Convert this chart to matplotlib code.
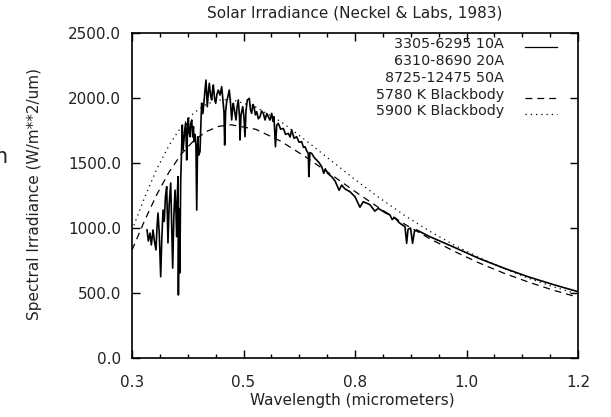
import matplotlib
matplotlib.use("Agg")
import matplotlib.pyplot as plt
from matplotlib.lines import Line2D

# Neckel & Labs (1983) solar spectral irradiance, W/m^2/um
wavelength = [
    0.3303, 0.3330, 0.3363, 0.3390, 0.3424, 0.3450, 0.3484, 0.3505, 0.3525, 0.3550,
    0.3579, 0.3600, 0.3626, 0.3650, 0.3675, 0.3700, 0.3726, 0.3750, 0.3781, 0.3800,
    0.3821, 0.3845, 0.3868, 0.3885, 0.3902, 0.3915, 0.3928, 0.3936, 0.3950, 0.3965,
    0.3983, 0.4015, 0.4030, 0.4049, 0.4065, 0.4084, 0.4104, 0.4120, 0.4136, 0.4150,
    0.4170, 0.4185, 0.4205, 0.4225, 0.4240, 0.4251, 0.4270, 0.4290, 0.4306, 0.4326,
    0.4345, 0.4372, 0.4390, 0.4406, 0.4430, 0.4453, 0.4470, 0.4493, 0.4519, 0.4540,
    0.4560, 0.4585, 0.4608, 0.4625, 0.4641, 0.4665, 0.4689, 0.4715, 0.4741, 0.4776,
    0.4810, 0.4840, 0.4856, 0.4870, 0.4890, 0.4911, 0.4935, 0.4963, 0.4990, 0.5012,
    0.5030, 0.5044, 0.5070, 0.5099, 0.5120, 0.5145, 0.5170, 0.5179, 0.5200, 0.5234,
    0.5260, 0.5280, 0.5300, 0.5327, 0.5367, 0.5390, 0.5415, 0.5440, 0.5462, 0.5490,
    0.5516, 0.5550, 0.5583, 0.5615, 0.5650, 0.5684, 0.5720, 0.5750, 0.5785, 0.5819,
    0.5845, 0.5865, 0.5895, 0.5920, 0.5952, 0.6000, 0.6053, 0.6100, 0.6154, 0.6190,
    0.6223, 0.6270, 0.6323, 0.6370, 0.6424, 0.6460, 0.6491, 0.6530, 0.6558, 0.6568,
    0.6590, 0.6626, 0.6680, 0.6727, 0.6780, 0.6828, 0.6870, 0.6900, 0.6950, 0.7030,
    0.7100, 0.7180, 0.7230, 0.7300, 0.7399, 0.7500, 0.7600, 0.7667, 0.7800, 0.7900,
    0.7970, 0.8100, 0.8206, 0.8250, 0.8300, 0.8408, 0.8509, 0.8542, 0.8570, 0.8620,
    0.8662, 0.8700, 0.8745, 0.9000, 0.9500, 1.0000, 1.0500, 1.1000, 1.1500, 1.2000,
    1.2475,
]
irradiance = [
    985, 900, 961, 870, 985, 905, 831, 1010, 1115, 960,
    625, 900, 1138, 1050, 1240, 1318, 885, 1180, 1346, 1050,
    692, 1100, 1292, 1150, 933, 1250, 1395, 485, 1150, 654,
    1369, 1792, 1600, 1677, 1760, 1807, 1523, 1750, 1846, 1740,
    1702, 1800, 1831, 1700, 1780, 1664, 1720, 1640, 1138, 1702,
    1560, 1587, 1800, 1961, 1880, 1972, 2050, 2138, 1933, 2040,
    2113, 2020, 1985, 2060, 2100, 2000, 1959, 2030, 2061, 2023,
    2087, 1960, 1895, 1638, 1900, 1972, 2010, 2061, 1950, 1831,
    1920, 1959, 1900, 1831, 1930, 1985, 1850, 1677, 1870, 1933,
    1850, 1702, 1900, 1985, 1997, 1910, 1882, 1950, 1933, 1870,
    1895, 1840, 1856, 1900, 1882, 1831, 1880, 1856, 1830, 1882,
    1820, 1856, 1625, 1790, 1805, 1760, 1766, 1720, 1728, 1700,
    1754, 1690, 1702, 1660, 1664, 1620, 1625, 1590, 1574, 1395,
    1580, 1574, 1540, 1523, 1500, 1472, 1420, 1455, 1420, 1395,
    1360, 1290, 1330, 1300, 1279, 1240, 1160, 1202, 1180, 1130,
    1151, 1120, 1100, 1065, 1080, 1036, 1010, 882, 990, 1000,
    882, 975, 985, 935, 852, 766, 692, 624, 565, 510,
    470,
]

# Blackbody curves scaled to 1 AU
bb_wavelength = [0.300, 0.325, 0.350, 0.375, 0.400, 0.425, 0.450, 0.475, 0.500,
                 0.550, 0.600, 0.650, 0.700, 0.750, 0.800, 0.850, 0.900, 0.950,
                 1.000, 1.050, 1.100, 1.150, 1.200]
bb_5780 = [830, 1053, 1257, 1432, 1571, 1673, 1742, 1782, 1794,
           1759, 1668, 1548, 1416, 1281, 1151, 1030, 920, 821,
           732, 653, 584, 522, 467]
bb_5900 = [983, 1231, 1453, 1638, 1783, 1886, 1952, 1984, 1989,
           1930, 1819, 1676, 1524, 1373, 1230, 1097, 977, 869,
           774, 689, 614, 548, 490]

x_ticks = [0.3, 0.525, 0.75, 0.975, 1.2]
x_tick_labels = ["0.3", "0.5", "0.8", "1.0", "1.2"]
y_ticks = [0, 500, 1000, 1500, 2000, 2500]
y_tick_labels = ["0.0", "500.0", "1000.0", "1500.0", "2000.0", "2500.0"]

legend_labels = ["3305-6295 10A", "6310-8690 20A", "8725-12475 50A",
                 "5780 K Blackbody", "5900 K Blackbody"]

W, H = 611, 417
FS = 11
LFS = 10.3
TXT = "#222222"

fig = plt.figure(figsize=(W / 100, H / 100), dpi=100)
ax = fig.add_axes([132 / W, 1 - 358 / H, (578 - 132) / W, (358 - 33) / H])

ax.plot(wavelength, irradiance, color="black", lw=1.2)
ax.plot(bb_wavelength, bb_5780, color="black", lw=0.9, dashes=(5.5, 4))
ax.plot(bb_wavelength, bb_5900, color="black", lw=0.9, dashes=(1, 3.2))

ax.set_xlim(0.3, 1.2)
ax.set_ylim(0, 2500)
ax.set_xticks(x_ticks)
ax.set_xticklabels(x_tick_labels)
minor = [0.3 + 0.05625 * k for k in range(17) if k % 4]
ax.set_xticks(minor, minor=True)
ax.set_yticks(y_ticks)
ax.set_yticklabels(y_tick_labels)

ax.tick_params(which="major", direction="in", top=True, right=True,
               length=6, width=1, labelsize=FS, labelcolor=TXT)
ax.tick_params(axis="x", which="major", pad=12)
ax.tick_params(axis="y", which="major", pad=8)
ax.tick_params(which="minor", direction="in", top=True, length=3, width=1)
for s in ax.spines.values():
    s.set_linewidth(1.2)

fig.text(355 / W, 1 - 18 / H, "Solar Irradiance (Neckel & Labs, 1983)",
         ha="center", va="baseline", fontsize=FS, color=TXT)
fig.text(352 / W, 1 - 405 / H, "Wavelength (micrometers)",
         ha="center", va="baseline", fontsize=FS, color=TXT)
fig.text(35 / W, 1 - 194 / H, "Spectral Irradiance (W/m**2/um)",
         ha="center", va="center", rotation=90, fontsize=FS, color=TXT)
fig.text(7.5 / W, 1 - 163 / H, "n", ha="right", va="baseline",
         fontsize=15, color=TXT)

# legend: labels on the left, line samples on the right
rows = [44, 61, 78, 95, 111]
styles = [dict(), None, None, dict(dashes=(5.5, 4)), dict(dashes=(1, 3.2))]
for label, yc, st in zip(legend_labels, rows, styles):
    fig.text(504 / W, 1 - yc / H, label, ha="right", va="center",
             fontsize=LFS, color=TXT)
    if st is not None:
        fig.add_artist(Line2D([525 / W, 557 / W], [1 - (yc + 3) / H] * 2,
                              transform=fig.transFigure, color="black",
                              lw=0.9, **st))

fig.savefig("out.png", dpi=100)
